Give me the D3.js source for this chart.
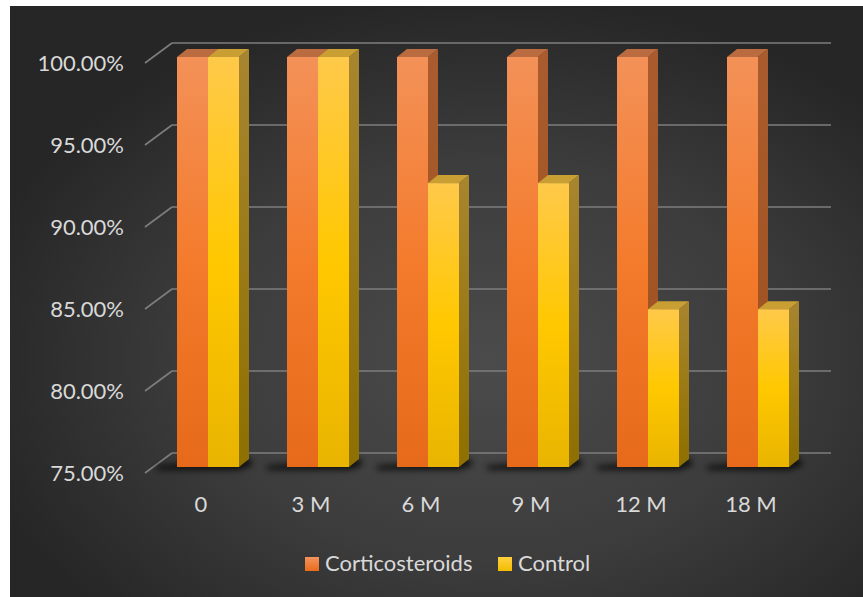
<!DOCTYPE html>
<html>
<head>
<meta charset="utf-8">
<script src="https://cdn.jsdelivr.net/npm/d3@7"></script>
<style>
  html, body { margin: 0; padding: 0; background: #ffffff; }
  svg { display: block; }
  text { font-family: Lato, "Open Sans", sans-serif; fill: #d9d9d9; }
</style>
</head>
<body>
<svg id="chart" width="863" height="597"></svg>
<script>
// Survival proportion by follow-up time
const categories = ["0", "3 M", "6 M", "9 M", "12 M", "18 M"];
const seriesNames = ["Corticosteroids", "Control"];
const corticosteroids = [1.0, 1.0, 1.0, 1.0, 1.0, 1.0];
const control = [1.0, 1.0, 0.9231, 0.9231, 0.8462, 0.8462];
const yTicks = [0.75, 0.80, 0.85, 0.90, 0.95, 1.00];

const svg = d3.select("#chart");
const W = 863, H = 597;
const fontSize = 22;

// Depth offsets of the pseudo-3D projection
const barDepth = { dx: 10, dy: -8 };
const wallDepth = { dy: -14 };
const axisFront = { x: 145, dy: 6 };
const wallLeft = 172, wallRight = 831;

const defs = svg.append("defs");

// Dark radial background
const bg = defs.append("radialGradient").attr("id", "bg")
  .attr("cx", "0.56").attr("cy", "0.6").attr("r", "0.62");
bg.append("stop").attr("offset", 0).attr("stop-color", "#4b4b4b");
bg.append("stop").attr("offset", 0.55).attr("stop-color", "#3c3c3c");
bg.append("stop").attr("offset", 1).attr("stop-color", "#262626");

function vgrad(id, stops) {
  const g = defs.append("linearGradient").attr("id", id)
    .attr("x1", 0).attr("y1", 0).attr("x2", 0).attr("y2", 1);
  stops.forEach(([o, c]) => g.append("stop").attr("offset", o).attr("stop-color", c));
}
vgrad("frontOrange", [[0, "#f39158"], [0.5, "#f47b2c"], [1, "#e66a1a"]]);
vgrad("sideOrange", [[0, "#aa5c2e"], [1, "#9c4f1c"]]);
vgrad("frontYellow", [[0, "#ffc94a"], [0.5, "#ffc800"], [1, "#e9b400"]]);
vgrad("sideYellow", [[0, "#a8852f"], [1, "#8e6f00"]]);
vgrad("legOrange", [[0, "#f4945e"], [1, "#e86c1c"]]);
vgrad("legYellow", [[0, "#ffd040"], [1, "#f2bd00"]]);

const blur = defs.append("filter").attr("id", "shadowBlur")
  .attr("x", "-50%").attr("y", "-200%").attr("width", "200%").attr("height", "500%");
blur.append("feGaussianBlur").attr("stdDeviation", 3);

const palette = {
  Corticosteroids: { front: "url(#frontOrange)", side: "url(#sideOrange)", top: "#bb6b40", legend: "url(#legOrange)" },
  Control: { front: "url(#frontYellow)", side: "url(#sideYellow)", top: "#c99f33", legend: "url(#legYellow)" }
};

svg.append("rect").attr("x", 10).attr("y", 6).attr("width", W - 10).attr("height", H - 6)
  .attr("fill", "url(#bg)");

// Scales
const x = d3.scaleBand().domain(categories).range([129, 837])
  .paddingInner(0.4364).paddingOuter(0.4364);
const xs = d3.scaleBand().domain(seriesNames).range([0, x.bandwidth()]);
const y = d3.scaleLinear().domain([0.75, 1.0]).range([467, 57]);

// Gridlines: back wall + left diagonal
const grid = svg.append("g").attr("stroke", "#7e7e7e").attr("stroke-width", 1.6).attr("fill", "none");
yTicks.forEach(t => {
  const yb = y(t) + wallDepth.dy;
  grid.append("line").attr("x1", wallLeft).attr("x2", wallRight).attr("y1", yb).attr("y2", yb);
  grid.append("line").attr("x1", axisFront.x).attr("y1", y(t) + axisFront.dy)
    .attr("x2", wallLeft).attr("y2", yb);
});

// Y tick labels
svg.append("g").selectAll("text").data(yTicks).join("text")
  .attr("x", 124).attr("y", d => y(d) + axisFront.dy + 8)
  .attr("text-anchor", "end").attr("font-size", fontSize)
  .text(d => d3.format(".2%")(d));

// Floor shadows
const base = y(0.75);
svg.append("g").selectAll("path").data(categories).join("path")
  .attr("d", c => {
    const x0 = x(c), x1 = x(c) + x.bandwidth();
    return `M${x0 - 22},${base - 1} L${x1 + barDepth.dx},${base - 9} L${x1 + barDepth.dx + 4},${base - 2} L${x1},${base + 3} L${x0 - 18},${base + 3} Z`;
  })
  .attr("fill", "#000").attr("opacity", 0.75).attr("filter", "url(#shadowBlur)");

// Bars
const rows = categories.map((c, i) => ({ c, vals: [corticosteroids[i], control[i]] }));
const bars = svg.append("g");
rows.forEach(r => {
  seriesNames.forEach((s, j) => {
    const v = r.vals[j];
    const bx = x(r.c) + xs(s), bw = xs.bandwidth();
    const yt = y(v), yb = y(0.75);
    const { dx, dy } = barDepth;
    const p = palette[s];
    const g = bars.append("g");
    g.append("path")
      .attr("d", `M${bx + bw},${yt} L${bx + bw + dx},${yt + dy} L${bx + bw + dx},${yb + dy} L${bx + bw},${yb} Z`)
      .attr("fill", p.side);
    g.append("path")
      .attr("d", `M${bx},${yt} L${bx + dx},${yt + dy} L${bx + bw + dx},${yt + dy} L${bx + bw},${yt} Z`)
      .attr("fill", p.top);
    g.append("rect").attr("x", bx).attr("y", yt).attr("width", bw).attr("height", yb - yt)
      .attr("fill", p.front);
  });
});

// X category labels
svg.append("g").selectAll("text").data(categories).join("text")
  .attr("x", c => x(c) + x.bandwidth() / 2 - 7).attr("y", 512)
  .attr("text-anchor", "middle").attr("font-size", fontSize)
  .text(c => c);

// Legend
const legendItems = [
  { name: "Corticosteroids", x: 305 },
  { name: "Control", x: 498 }
];
const leg = svg.append("g");
legendItems.forEach(it => {
  leg.append("rect").attr("x", it.x).attr("y", 557).attr("width", 14).attr("height", 14)
    .attr("fill", palette[it.name].legend);
  leg.append("text").attr("x", it.x + 20).attr("y", 571).attr("font-size", fontSize).text(it.name);
});
</script>
</body>
</html>
